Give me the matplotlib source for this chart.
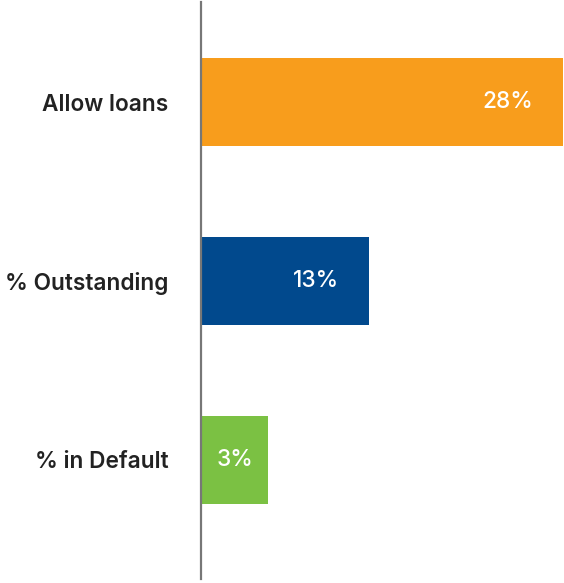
import matplotlib.pyplot as plt

categories = ["Allow loans", "% Outstanding", "% in Default"]
bar_lengths = [28, 13, 5.2]
value_labels = ["28%", "13%", "3%"]
colors = ["#F89D1C", "#01498D", "#7BC143"]

plt.rcParams["font.family"] = ["Inter", "Liberation Sans", "DejaVu Sans"]

W, H = 564, 583
fig = plt.figure(figsize=(W / 100, H / 100), dpi=100)
ax = fig.add_axes([201 / W, 1 - 579 / H, 362 / W, 577 / H])

ypos = list(range(len(categories)))
ax.barh(ypos, bar_lengths, height=0.49, color=colors)

ax.set_xlim(0, 28)
ax.set_ylim(2.665, -0.559)

ax.set_yticks(ypos)
ax.set_yticklabels(categories, fontsize=16.3, color="#222222", fontweight="semibold")
ax.tick_params(axis="y", length=0, pad=23.5)
ax.set_xticks([])

for side in ["top", "right", "bottom"]:
    ax.spines[side].set_visible(False)
ax.spines["left"].set_color("#777777")
ax.spines["left"].set_linewidth(1.6)

# value labels: near the bar end, centred when the bar is short
for y, v, lab in zip(ypos, bar_lengths, value_labels):
    if v > 8:
        ax.annotate(lab, (v, y), xytext=(-30, 0), textcoords="offset pixels",
                    ha="right", va="center", color="white", fontsize=16.3,
                    fontweight="medium")
    else:
        ax.text(v / 2, y, lab, ha="center", va="center", color="white",
                fontsize=16.3, fontweight="medium")

fig.savefig("out.png", dpi=100)
